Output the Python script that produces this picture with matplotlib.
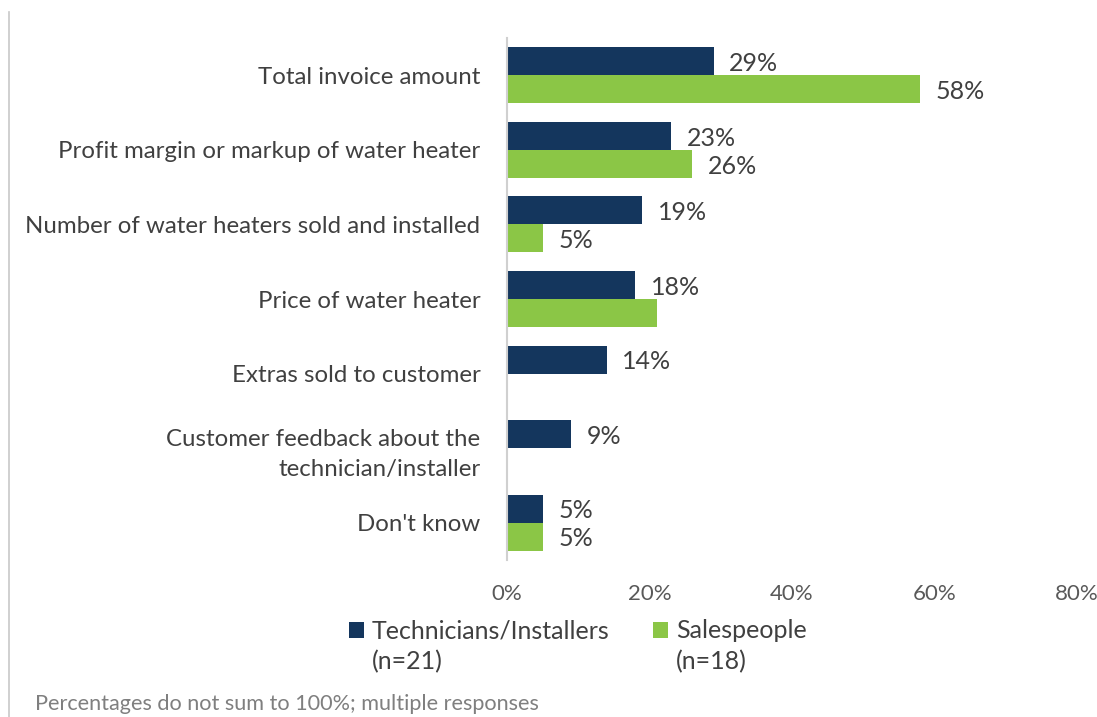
import matplotlib.pyplot as plt
import numpy as np

categories = ["Total invoice amount",
              "Profit margin or markup of water heater",
              "Number of water heaters sold and installed",
              "Price of water heater",
              "Extras sold to customer",
              "Customer feedback about the\ntechnician/installer",
              "Don't know"]
tech = [29, 23, 19, 18, 14, 9, 5]
sales = [58, 26, 5, 21, 0, 0, 5]
tech_labels = ["29%", "23%", "19%", "18%", "14%", "9%", "5%"]
sales_labels = ["58%", "26%", "5%", "", "", "", "5%"]
xticks = [0, 20, 40, 60, 80]
xtick_labels = ["0%", "20%", "40%", "60%", "80%"]
series_names = ["Technicians/Installers", "Salespeople"]
series_n = ["(n=21)", "(n=18)"]

navy = "#14365D"
green = "#8BC646"
plt.rcParams['font.family'] = ['Lato', 'DejaVu Sans']

fig = plt.figure(figsize=(10.97, 7.17), dpi=100)
ax = fig.add_axes([507/1097, 1-560/717, 570/1097, 522/717])

y = np.arange(len(categories))
h = 0.375
ax.barh(y - h/2, tech, height=h, color=navy, label=series_names[0])
ax.barh(y + h/2, sales, height=h, color=green, label=series_names[1])

for i in range(len(categories)):
    ax.text(tech[i] + 2.2, y[i] - h/2 + 0.03, tech_labels[i], va='center', ha='left',
            fontsize=18, color="#404040")
    if sales_labels[i]:
        ax.text(sales[i] + 2.2, y[i] + h/2 + 0.03, sales_labels[i], va='center', ha='left',
                fontsize=18, color="#404040")

ax.set_xlim(0, 80)
ax.set_ylim(len(categories) - 0.5, -0.5)
ax.set_yticks(y)
ax.set_yticklabels(categories, fontsize=17.3, color="#404040", ha='right', linespacing=1.55)
ax.set_xticks(xticks)
ax.set_xticklabels(xtick_labels, fontsize=16, color="#595959")
ax.tick_params(axis='both', length=0)
ax.tick_params(axis='y', pad=19)
ax.tick_params(axis='x', pad=17)
for s in ['top', 'right', 'bottom']:
    ax.spines[s].set_visible(False)
ax.spines['left'].set_color("#d0d0d0")
ax.spines['left'].set_linewidth(1.5)

leg = fig.legend(loc='center', bbox_to_anchor=(578/1097, 1-631/717), ncol=2, frameon=False,
                 fontsize=18, handlelength=0.6, handleheight=0.6, handletextpad=0.3,
                 columnspacing=1.75, labelcolor="#404040")

# second line of each legend entry, placed under its text
fig.canvas.draw()
inv = fig.transFigure.inverted()
for t, n in zip(leg.get_texts(), series_n):
    bb = t.get_window_extent()
    x0, _ = inv.transform((bb.x0, bb.y0))
    fig.text(x0, 1-662/717, n, fontsize=18, color="#404040", va='center', ha='left')

# thin gray rule at left edge
fig.add_artist(plt.Line2D([9/1097, 9/1097], [0, 1-12/717], color="#c8c8c8", linewidth=1.2))

fig.text(35/1097, 1-704/717, "Percentages do not sum to 100%; multiple responses",
         fontsize=15.6, color="#7f7f7f", va='center', ha='left')

plt.savefig('out.png', dpi=100)
